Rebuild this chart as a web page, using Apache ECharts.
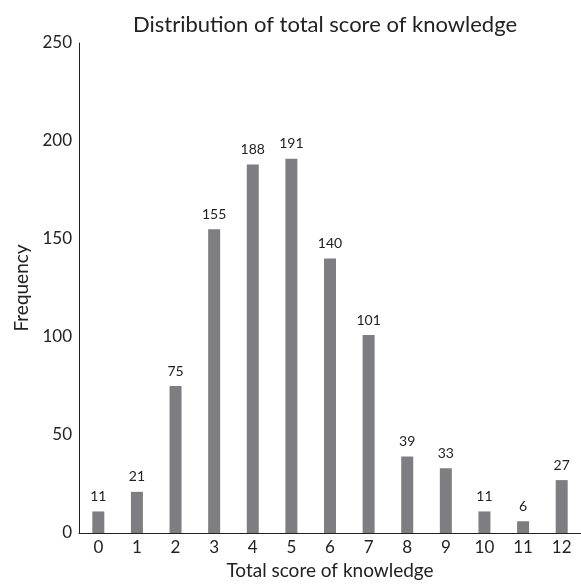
<!DOCTYPE html>
<html><head><meta charset="utf-8">
<script src="https://cdn.jsdelivr.net/npm/echarts@6/dist/echarts.min.js"></script>
<style>html,body{margin:0;padding:0;background:#fff}#c{width:581px;height:585px}</style>
</head><body><div id="c"></div>
<script>
const categories = ['0','1','2','3','4','5','6','7','8','9','10','11','12'];
const frequency = [11,21,75,155,188,191,140,101,39,33,11,6,27];
const yTicks = {min:0, max:250, interval:50};
const FONT = 'Lato, "Noto Sans", sans-serif';
const chart = echarts.init(document.getElementById('c'));
chart.setOption({
  animation:false,
  backgroundColor:'#fff',
  title:{text:'Distribution of total score of knowledge', left:320, textAlign:'center', top:9,
    textStyle:{fontFamily:FONT, fontSize:22, fontWeight:'normal', color:'#222'}},
  grid:{left:79, right:0, top:43, bottom:48},
  xAxis:{type:'category', data:categories,
    axisLine:{lineStyle:{color:'#222', width:1}}, axisTick:{show:false},
    axisLabel:{fontFamily:FONT, fontSize:17, color:'#222', margin:6},
    name:'Total score of knowledge', nameLocation:'middle', nameGap:28,
    nameTextStyle:{fontFamily:FONT, fontSize:19, color:'#222'}},
  yAxis:{type:'value', min:yTicks.min, max:yTicks.max, interval:yTicks.interval,
    splitLine:{show:false}, axisLine:{show:true, lineStyle:{color:'#222', width:1}}, axisTick:{show:false},
    axisLabel:{fontFamily:FONT, fontSize:17, color:'#222', margin:7},
    name:'Frequency', nameLocation:'middle', nameGap:47, nameRotate:90,
    nameTextStyle:{fontFamily:FONT, fontSize:19, color:'#222'}},
  series:[{type:'bar', data:frequency, barWidth:12,
    itemStyle:{color:'#7e7e82'},
    label:{show:true, position:'top', distance:8, fontFamily:FONT, fontSize:14, color:'#222'}}]
});
</script></body></html>
